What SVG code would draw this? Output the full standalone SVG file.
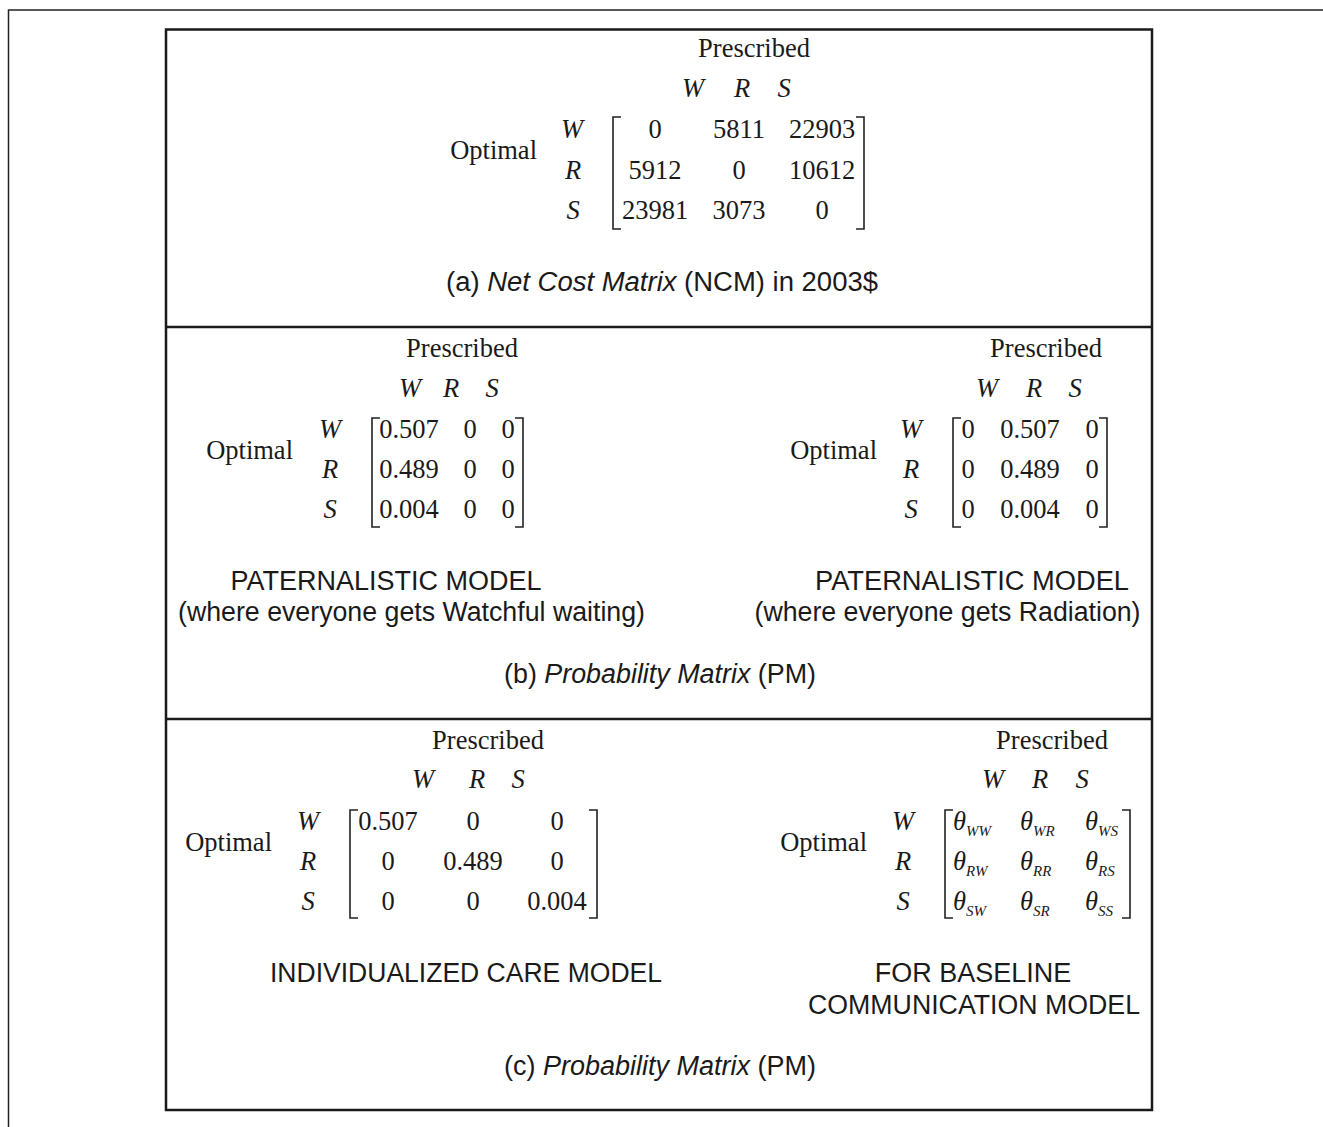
<svg xmlns="http://www.w3.org/2000/svg" width="1323" height="1127" viewBox="0 0 1323 1127">
<style>
.s{font-family:"Liberation Serif","Times New Roman",serif;font-size:26.5px;fill:#1a1a1a;text-anchor:middle}
.i{font-style:italic}
.e{text-anchor:end}
.l{text-anchor:start}
.sub{font-size:15px;font-style:italic}
.c{font-family:"Liberation Sans",Arial,sans-serif;font-size:27px;fill:#1a1a1a;text-anchor:middle}
.b{fill:none;stroke:#222;stroke-width:1.6}
.frame{fill:none;stroke:#222;stroke-width:1.5}
.box{fill:none;stroke:#1a1a1a;stroke-width:2.5}
</style>
<g id="frame">
<path class="frame" d="M1323,10 H8.5 V1127"/>
<rect class="box" x="166" y="29.5" width="986" height="1080.5"/>
<line class="box" x1="166" y1="327" x2="1152" y2="327"/>
<line class="box" x1="166" y1="719" x2="1152" y2="719"/>
</g>
<g id="ncm">
<text class="s" x="754" y="57">Prescribed</text>
<text class="s i" x="693" y="97">W</text>
<text class="s i" x="742" y="97">R</text>
<text class="s i" x="784" y="97">S</text>
<text class="s e" x="537" y="159">Optimal</text>
<text class="s i" x="572" y="138">W</text>
<text class="s i" x="573" y="179">R</text>
<text class="s i" x="573" y="219">S</text>
<path class="b" d="M621,117 H613 V229 H621"/>
<path class="b" d="M856,117 H864 V229 H856"/>
<text class="s" x="655" y="138">0</text>
<text class="s" x="739" y="138">5811</text>
<text class="s" x="822" y="138">22903</text>
<text class="s" x="655" y="179">5912</text>
<text class="s" x="739" y="179">0</text>
<text class="s" x="822" y="179">10612</text>
<text class="s" x="655" y="219">23981</text>
<text class="s" x="739" y="219">3073</text>
<text class="s" x="822" y="219">0</text>
<text class="c" x="662" y="291" textLength="432" lengthAdjust="spacingAndGlyphs">(a) <tspan font-style="italic">Net Cost Matrix</tspan> (NCM) in 2003$</text>
</g>
<g id="pm-watchful">
<text class="s" x="462" y="357">Prescribed</text>
<text class="s i" x="410" y="397">W</text>
<text class="s i" x="451" y="397">R</text>
<text class="s i" x="492" y="397">S</text>
<text class="s e" x="293" y="459">Optimal</text>
<text class="s i" x="330" y="438">W</text>
<text class="s i" x="330" y="478">R</text>
<text class="s i" x="330" y="518">S</text>
<path class="b" d="M380,418 H372 V527 H380"/>
<path class="b" d="M515,418 H523 V527 H515"/>
<text class="s" x="409" y="438">0.507</text>
<text class="s" x="470" y="438">0</text>
<text class="s" x="508" y="438">0</text>
<text class="s" x="409" y="478">0.489</text>
<text class="s" x="470" y="478">0</text>
<text class="s" x="508" y="478">0</text>
<text class="s" x="409" y="518">0.004</text>
<text class="s" x="470" y="518">0</text>
<text class="s" x="508" y="518">0</text>
<text class="c" x="386" y="590" textLength="311" lengthAdjust="spacingAndGlyphs">PATERNALISTIC MODEL</text>
<text class="c" x="411.5" y="621" textLength="467" lengthAdjust="spacingAndGlyphs">(where everyone gets Watchful waiting)</text>
</g>
<g id="pm-radiation">
<text class="s" x="1046" y="357">Prescribed</text>
<text class="s i" x="987" y="397">W</text>
<text class="s i" x="1034" y="397">R</text>
<text class="s i" x="1075" y="397">S</text>
<text class="s e" x="877" y="459">Optimal</text>
<text class="s i" x="911" y="438">W</text>
<text class="s i" x="911" y="478">R</text>
<text class="s i" x="911" y="518">S</text>
<path class="b" d="M961,418 H953 V527 H961"/>
<path class="b" d="M1099,418 H1107 V527 H1099"/>
<text class="s" x="968" y="438">0</text>
<text class="s" x="1030" y="438">0.507</text>
<text class="s" x="1092" y="438">0</text>
<text class="s" x="968" y="478">0</text>
<text class="s" x="1030" y="478">0.489</text>
<text class="s" x="1092" y="478">0</text>
<text class="s" x="968" y="518">0</text>
<text class="s" x="1030" y="518">0.004</text>
<text class="s" x="1092" y="518">0</text>
<text class="c" x="972" y="590" textLength="314" lengthAdjust="spacingAndGlyphs">PATERNALISTIC MODEL</text>
<text class="c" x="947.5" y="621" textLength="386" lengthAdjust="spacingAndGlyphs">(where everyone gets Radiation)</text>
</g>
<g id="caption-b">
<text class="c" x="660" y="683" textLength="312" lengthAdjust="spacingAndGlyphs">(b) <tspan font-style="italic">Probability Matrix</tspan> (PM)</text>
</g>
<g id="pm-individualized">
<text class="s" x="488" y="749">Prescribed</text>
<text class="s i" x="423" y="788">W</text>
<text class="s i" x="477" y="788">R</text>
<text class="s i" x="518" y="788">S</text>
<text class="s e" x="272" y="851">Optimal</text>
<text class="s i" x="308" y="830">W</text>
<text class="s i" x="308" y="870">R</text>
<text class="s i" x="308" y="910">S</text>
<path class="b" d="M358,810 H350 V918 H358"/>
<path class="b" d="M589,810 H597 V918 H589"/>
<text class="s" x="388" y="830">0.507</text>
<text class="s" x="473" y="830">0</text>
<text class="s" x="557" y="830">0</text>
<text class="s" x="388" y="870">0</text>
<text class="s" x="473" y="870">0.489</text>
<text class="s" x="557" y="870">0</text>
<text class="s" x="388" y="910">0</text>
<text class="s" x="473" y="910">0</text>
<text class="s" x="557" y="910">0.004</text>
<text class="c" x="466" y="982" textLength="392" lengthAdjust="spacingAndGlyphs">INDIVIDUALIZED CARE MODEL</text>
</g>
<g id="pm-baseline">
<text class="s" x="1052" y="749">Prescribed</text>
<text class="s i" x="993" y="788">W</text>
<text class="s i" x="1040" y="788">R</text>
<text class="s i" x="1082" y="788">S</text>
<text class="s e" x="867" y="851">Optimal</text>
<text class="s i" x="903" y="830">W</text>
<text class="s i" x="903" y="870">R</text>
<text class="s i" x="903" y="910">S</text>
<path class="b" d="M953,810 H945 V918 H953"/>
<path class="b" d="M1122,810 H1130 V918 H1122"/>
<text class="s i l" x="953" y="830">θ<tspan class="sub" dy="6">WW</tspan></text>
<text class="s i l" x="1020" y="830">θ<tspan class="sub" dy="6">WR</tspan></text>
<text class="s i l" x="1085" y="830">θ<tspan class="sub" dy="6">WS</tspan></text>
<text class="s i l" x="953" y="870">θ<tspan class="sub" dy="6">RW</tspan></text>
<text class="s i l" x="1020" y="870">θ<tspan class="sub" dy="6">RR</tspan></text>
<text class="s i l" x="1085" y="870">θ<tspan class="sub" dy="6">RS</tspan></text>
<text class="s i l" x="953" y="910">θ<tspan class="sub" dy="6">SW</tspan></text>
<text class="s i l" x="1020" y="910">θ<tspan class="sub" dy="6">SR</tspan></text>
<text class="s i l" x="1085" y="910">θ<tspan class="sub" dy="6">SS</tspan></text>
<text class="c" x="973" y="982">FOR BASELINE</text>
<text class="c" x="974" y="1014" textLength="332" lengthAdjust="spacingAndGlyphs">COMMUNICATION MODEL</text>
</g>
<g id="caption-c">
<text class="c" x="660" y="1075" textLength="312" lengthAdjust="spacingAndGlyphs">(c) <tspan font-style="italic">Probability Matrix</tspan> (PM)</text>
</g>
<g id="connectors"/>
</svg>
